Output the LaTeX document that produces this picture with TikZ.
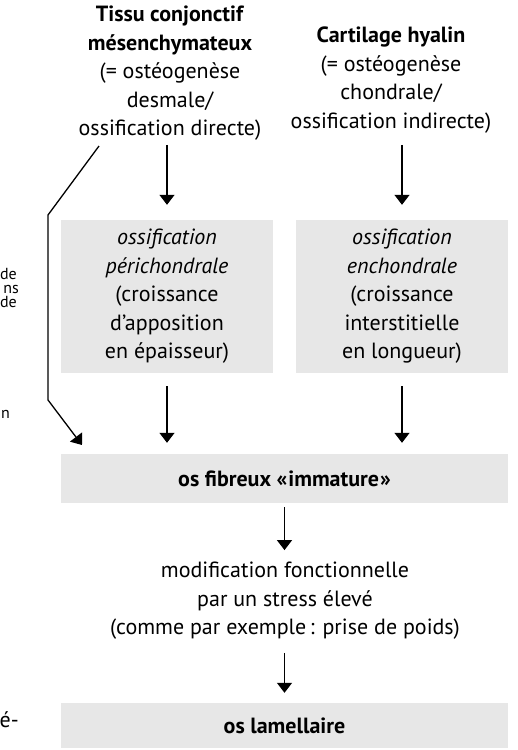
\documentclass[tikz,border=0pt]{standalone}
\usepackage{fontspec}
\setmainfont{PT Sans}
\usetikzlibrary{arrows.meta}
\definecolor{boxgray}{HTML}{E7E7E7}
\begin{document}
\begin{tikzpicture}[x=1pt,y=-1pt,
  every node/.style={font=\fontsize{22}{28.5}\selectfont, inner sep=0pt, align=center},
  graybox/.style={fill=boxgray},
  arr/.style={line width=1.3pt, -{Triangle[width=15pt,length=10pt]}},
  frag/.style={font=\fontsize{16}{14}\selectfont, align=right},
  bigfrag/.style={anchor=base east}
]
\useasboundingbox (0,0) rectangle (517,750);

% top titles
\node[anchor=north] (tl) at (170,6) {\textbf{Tissu conjonctif}\\\textbf{mésenchymateux}\\(= ostéogenèse\\desmale/\\ossification directe)};
\node[anchor=north] (tr) at (391,27) {\textbf{Cartilage hyalin}\\(= ostéogenèse\\chondrale/\\ossification indirecte)};

% gray boxes
\node[graybox, minimum width=212pt, minimum height=153pt] (pl) at (167,296.5) {\textit{ossification}\\\textit{périchondrale}\\(croissance\\d’apposition\\en épaisseur)};
\node[graybox, minimum width=212pt, minimum height=153pt] (pr) at (402,296.5) {\textit{ossification}\\\textit{enchondrale}\\(croissance\\interstitielle\\en longueur)};
\node[graybox, minimum width=447pt, minimum height=49pt] (fib) at (284.5,478.5) {\textbf{os fibreux «\kern1pt immature\kern1pt»}};
\node (mod) at (285,601) {modification fonctionnelle\\par un stress élevé\\(comme par exemple\,: prise de poids)};
\node[graybox, minimum width=447pt, minimum height=45pt] (lam) at (284.5,725.5) {\textbf{os lamellaire}};

% cropped fragments at the left margin
\node[frag, anchor=east] (f1) at (19,288) {de\kern2pt\\ns\\de\kern2pt};
\node[frag, anchor=base east] (f4) at (10,418) {n};
\node[bigfrag] (f5) at (19,727) {é-};

% arrows
\draw[arr] ([yshift=-4pt]pl.north |- tl.south) -- ([yshift=15pt]pl.north);
\draw[arr] ([yshift=-4pt]pr.north |- tl.south) -- ([yshift=15pt]pr.north);
\draw[arr] ([yshift=-13pt]pl.south) -- ([yshift=11pt]pl.south |- fib.north);
\draw[arr] ([yshift=-13pt]pr.south) -- ([yshift=11pt]pr.south |- fib.north);
\draw[arr] ([yshift=-4pt]fib.south) -- ([yshift=12pt]fib.south |- mod.north);
\draw[arr] ([yshift=-13pt]fib.south |- mod.south) -- ([yshift=10pt]lam.north);

\coordinate (d0) at (99,146);
\coordinate (d1) at (48,215);
\coordinate (d2) at (48,400);
\coordinate (d3) at (82,445);
\draw[line width=1.3pt, -{Triangle[width=15pt,length=10pt]}, line join=miter] (d0) -- (d1) -- (d2) -- (d3);
\end{tikzpicture}
\end{document}
